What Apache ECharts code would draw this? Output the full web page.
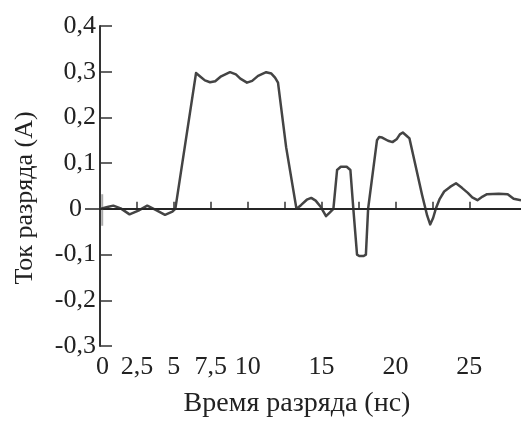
<!DOCTYPE html>
<html><head><meta charset="utf-8">
<script src="https://cdn.jsdelivr.net/npm/echarts@6/dist/echarts.min.js"></script>
<style>html,body{margin:0;padding:0;background:#fff}#c{width:521px;height:423px}</style>
</head><body><div id="c"></div>
<script>
const timeNs = [0, 0.5, 0.9, 1.4, 2.0, 2.6, 3.2, 3.8, 4.4, 4.9, 5.1, 6.5, 6.8, 7.1, 7.45, 7.8, 8.2, 8.8, 9.2, 9.5, 9.95, 10.3, 10.7, 11.25, 11.6, 11.85, 12.05, 12.6, 13.3, 13.6, 14.0, 14.3, 14.6, 14.95, 15.3, 15.55, 15.8, 16.05, 16.3, 16.7, 16.95, 17.15, 17.4, 17.55, 17.85, 18.0, 18.15, 18.75, 18.9, 19.1, 19.5, 19.8, 20.1, 20.3, 20.5, 20.75, 20.95, 21.2, 21.8, 22.15, 22.35, 22.55, 22.75, 23.0, 23.3, 23.7, 24.1, 24.5, 24.9, 25.2, 25.55, 25.9, 26.2, 27.0, 27.6, 28.0, 28.5];
const currentA = [0, 0.004, 0.007, 0.001, -0.012, -0.004, 0.007, -0.003, -0.013, -0.006, 0, 0.297, 0.289, 0.281, 0.277, 0.279, 0.29, 0.299, 0.294, 0.285, 0.276, 0.28, 0.291, 0.299, 0.296, 0.287, 0.276, 0.135, 0, 0.008, 0.02, 0.024, 0.018, 0.004, -0.016, -0.008, 0, 0.085, 0.092, 0.092, 0.085, 0, -0.1, -0.103, -0.103, -0.1, 0, 0.15, 0.157, 0.156, 0.149, 0.146, 0.153, 0.163, 0.167, 0.16, 0.154, 0.118, 0.031, -0.015, -0.034, -0.02, 0.002, 0.022, 0.038, 0.048, 0.056, 0.046, 0.035, 0.025, 0.019, 0.027, 0.032, 0.033, 0.032, 0.022, 0.019];
const noiseTime = [0.15, 0.15];
const noiseCurrent = [0.032, -0.037];
const xTicks = [0, 2.5, 5, 7.5, 10, 12.5, 15, 17.5, 20, 22.5, 25];
const xLabels = [0, 2.5, 5, 7.5, 10, 15, 20, 25];
const yTicks = [-0.3, -0.2, -0.1, 0.1, 0.2, 0.3, 0.4];
const yZero = [0];
const xTitle = 'Время разряда (нс)';
const yTitle = 'Ток разряда (А)';

const font = 'Liberation Serif';
const txt = '#222';
const chart = echarts.init(document.getElementById('c'), null, {renderer: 'canvas'});
const fmt = v => String(Math.round(v * 10) / 10).replace('.', ',');
const yBase = {
  type: 'value', min: -0.3, max: 0.4, interval: 0.1, position: 'left',
  splitLine: {show: false}
};
chart.setOption({
  animation: false,
  grid: {left: 100, right: 0, top: 26, bottom: 73},
  xAxis: {
    type: 'value', min: 0, max: 28.5,
    name: xTitle, nameLocation: 'middle', nameGap: 44,
    nameTextStyle: {fontFamily: font, fontSize: 28, color: txt, padding: [0, 27, 0, 0]},
    axisLine: {lineStyle: {color: '#333', width: 2}},
    axisTick: {inside: true, length: 7, lineStyle: {color: '#333', width: 1.5}, customValues: xTicks},
    axisLabel: {
      customValues: xLabels, margin: 8, fontFamily: font, fontSize: 26, color: txt,
      formatter: v => v === 0 ? '{z|0}' : fmt(v),
      rich: {z: {fontFamily: font, fontSize: 26, color: txt, padding: [0, 0, 0, 5]}}
    },
    splitLine: {show: false}
  },
  yAxis: [
    Object.assign({}, yBase, {
      name: yTitle, nameLocation: 'middle', nameGap: 62, nameRotate: 90,
      nameTextStyle: {fontFamily: font, fontSize: 26, color: txt, padding: [0, 24, 0, 0]},
      axisLine: {show: true, lineStyle: {color: '#333', width: 2}},
      axisTick: {show: true, inside: true, length: 12, lineStyle: {color: '#333', width: 1.5}, customValues: yTicks},
      axisLabel: {margin: 4, fontFamily: font, fontSize: 26, color: txt, formatter: fmt, customValues: yTicks}
    }),
    Object.assign({}, yBase, {
      axisLine: {show: false},
      axisTick: {show: true, inside: false, length: 15, lineStyle: {color: '#222', width: 1.5}, customValues: yZero},
      axisLabel: {margin: 18, fontFamily: font, fontSize: 26, color: txt, formatter: fmt, customValues: yZero}
    })
  ],
  series: [
    {
      type: 'line', data: noiseTime.map((t, i) => [t, noiseCurrent[i]]),
      showSymbol: false, lineStyle: {color: '#aaa', width: 2}, z: 1
    },
    {
      type: 'line', data: timeNs.map((t, i) => [t, currentA[i]]),
      showSymbol: false, smooth: false,
      lineStyle: {color: '#444', width: 2.5, join: 'round'},
      markLine: {
        silent: true, symbol: ['none', 'none'], label: {show: false},
        lineStyle: {color: '#222', width: 1.5, type: 'solid'},
        data: [{yAxis: 0}]
      }
    }
  ]
});
</script>
</body></html>
